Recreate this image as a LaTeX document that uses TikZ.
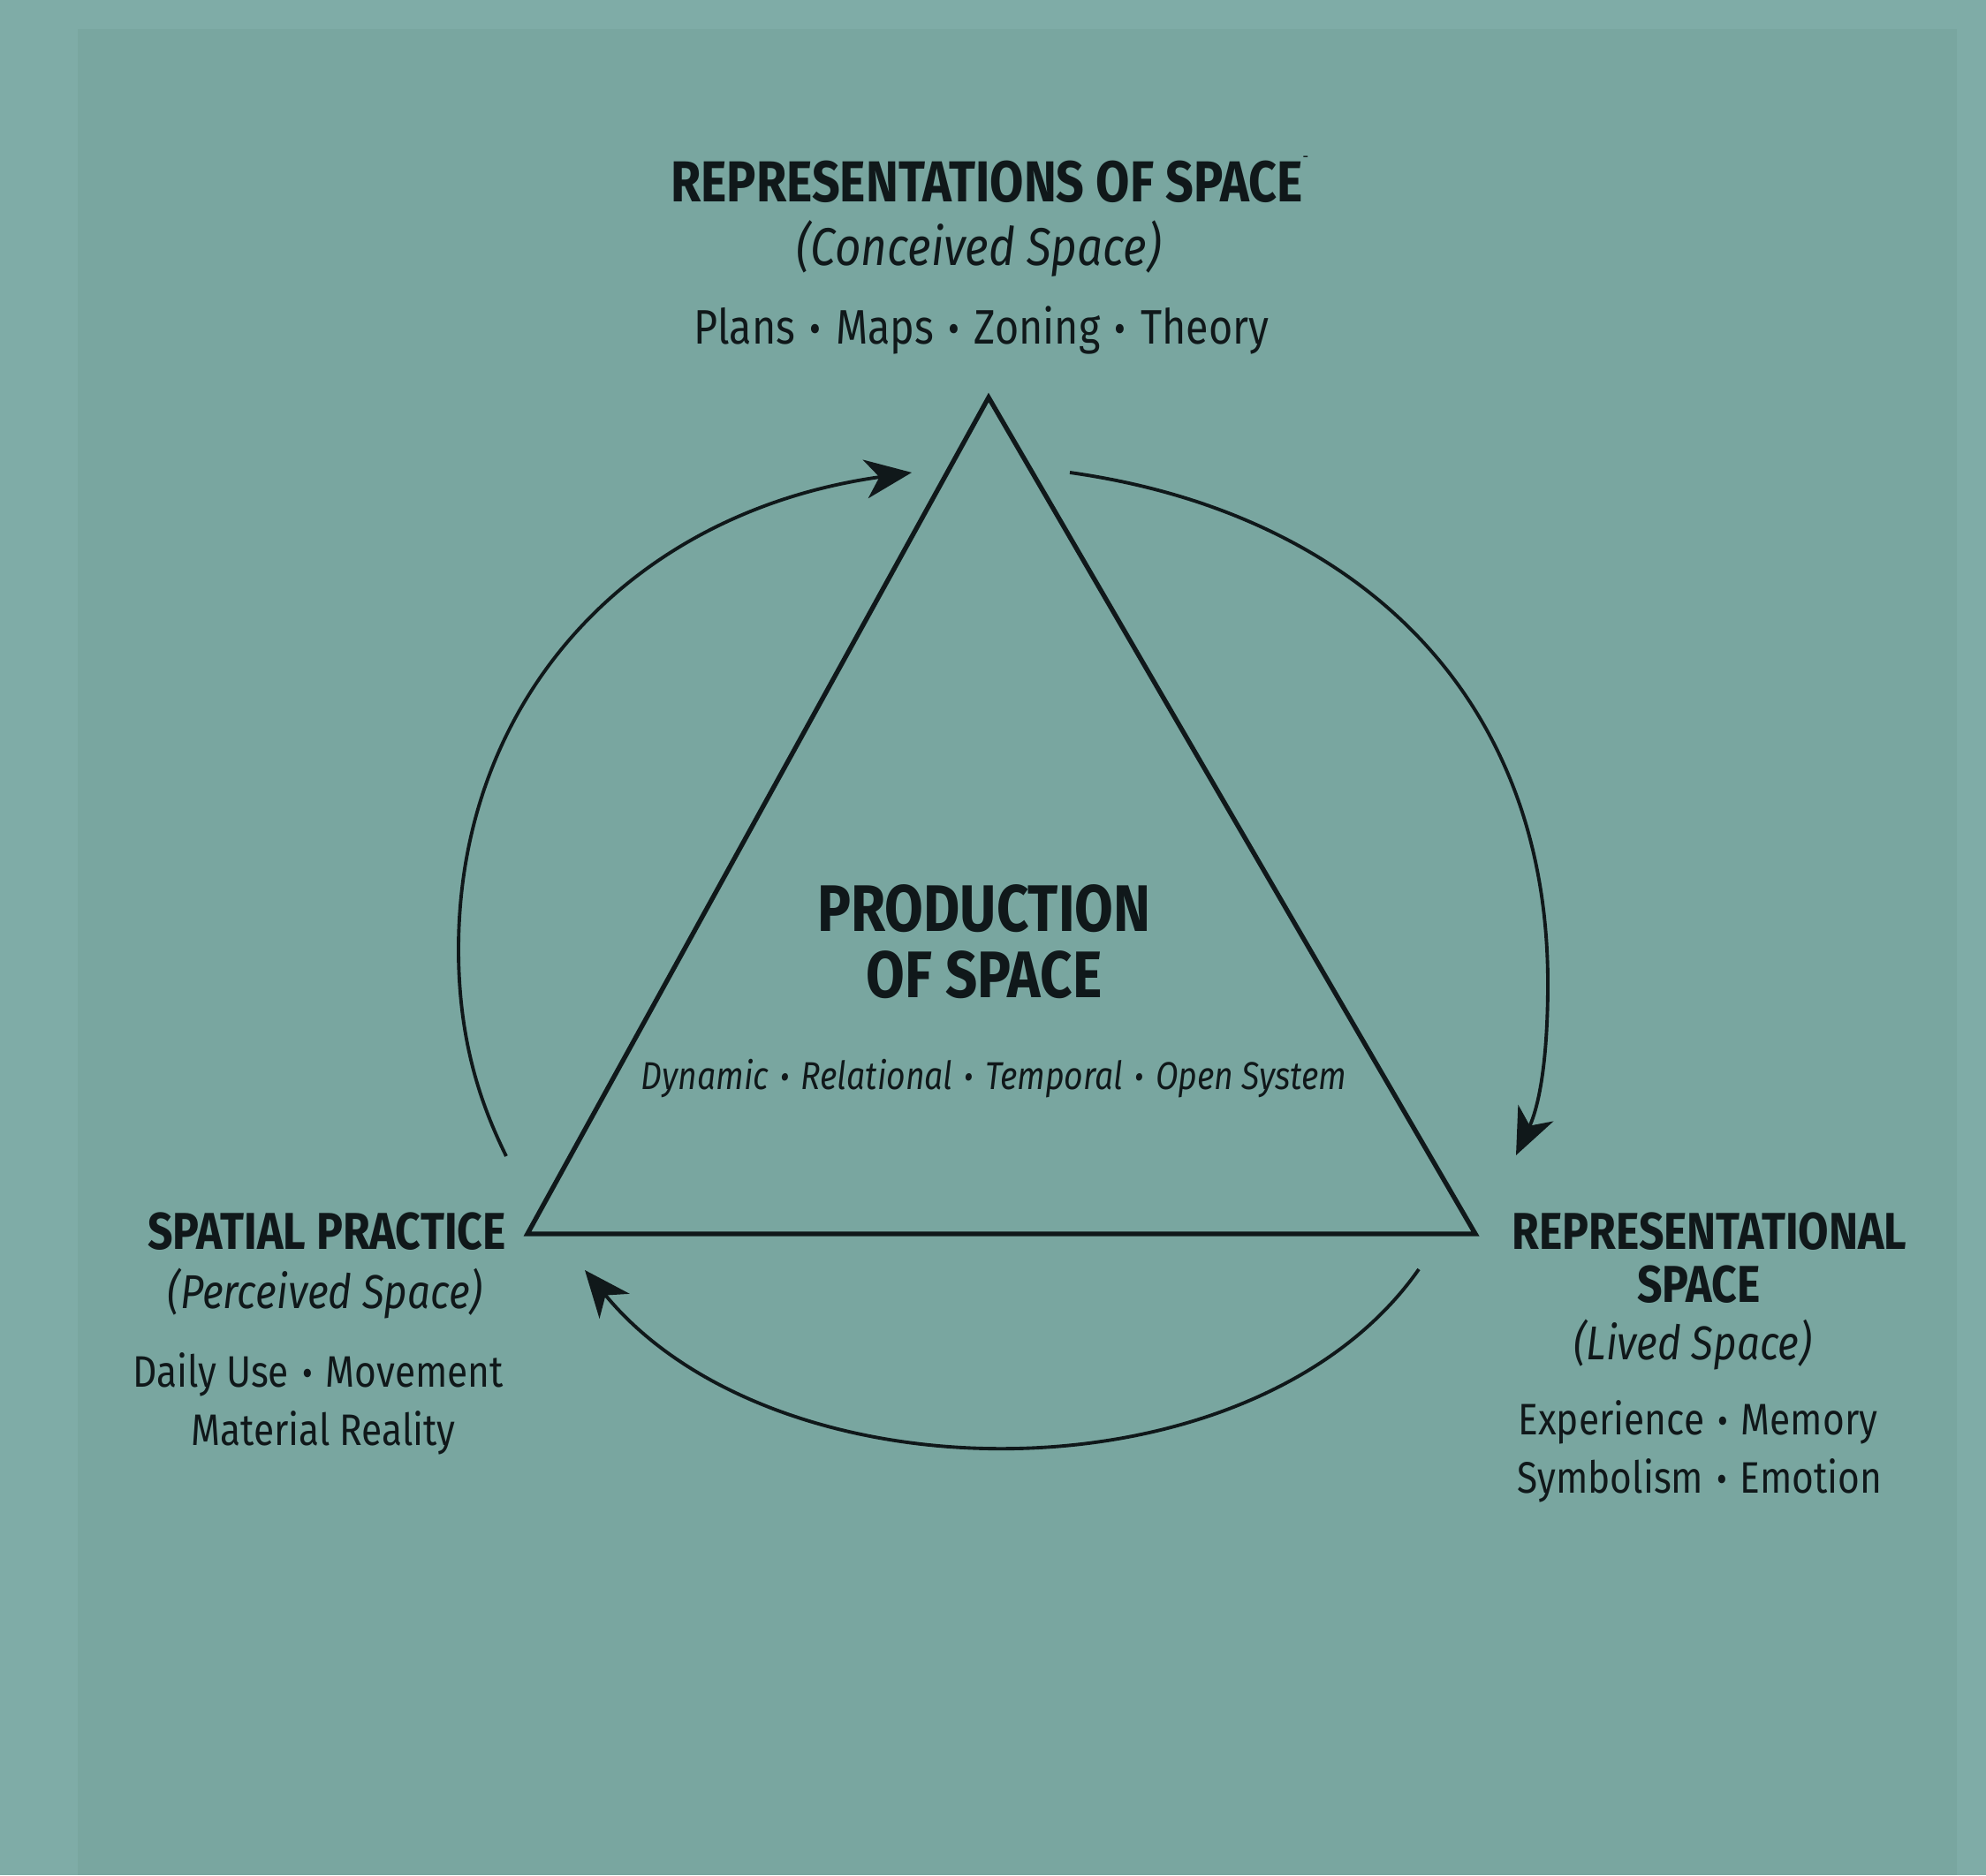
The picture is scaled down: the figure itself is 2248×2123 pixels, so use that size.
\documentclass[tikz,border=0pt]{standalone}
\usepackage{fontspec}
\setmainfont{Fira Sans}[FakeStretch=0.85]
\usetikzlibrary{arrows.meta}
\definecolor{bgout}{RGB}{127,172,167}
\definecolor{bgin}{RGB}{121,166,160}
\definecolor{ink}{RGB}{16,24,26}
\newcommand{\sepdot}{\hspace{0.3em}\raisebox{0.02em}{\scalebox{0.85}{•}}\hspace{0.3em}}
\begin{document}
\begin{tikzpicture}[x=0.01cm,y=0.01cm,
  lbl/.style={text=ink, inner sep=0pt, anchor=center},
  tophead/.style={lbl, font=\fontsize{18.6}{22}\selectfont\bfseries},
  head/.style={lbl, font=\fontsize{16.7}{20}\selectfont\bfseries},
  topsub/.style={lbl, font=\fontsize{17.1}{20}\selectfont\itshape},
  sub/.style={lbl, font=\fontsize{15.3}{18}\selectfont\itshape},
  topitems/.style={lbl, font=\fontsize{15.6}{19}\selectfont},
  items/.style={lbl, font=\fontsize{14.2}{18}\selectfont},
  core/.style={lbl, font=\fontsize{21.2}{26}\selectfont\bfseries},
  dyn/.style={lbl, font=\fontsize{12.5}{15}\selectfont\itshape},
  tri/.style={draw=ink, line width=1.5pt, line join=miter},
  arr/.style={draw=ink, line width=1.1pt, -{Stealth[length=15pt,width=12.5pt,inset=4.5pt]}}]
\fill[bgout] (0,0) rectangle (2248,2123);
\fill[bgin] (88,0) rectangle (2215,2090);
\useasboundingbox (0,0) rectangle (2248,2123);

% triangle
\coordinate (A) at (1119,1673);
\coordinate (B) at (597,726);
\coordinate (C) at (1670,726);
\draw[tri] (A) -- (B) -- (C) -- cycle;

% arcs
\coordinate (s1) at (573,814);
\coordinate (l1) at (519,1048);
\coordinate (e1) at (1032,1588);
\draw[arr] (s1) .. controls (548,865) and (519,938) .. (l1)
               .. controls (519,1330) and (712,1543) .. (e1);

\coordinate (s2) at (1211,1588);
\coordinate (r2) at (1752,1010);
\coordinate (e2) at (1716,815);
\draw[arr] (s2) .. controls (1531,1543) and (1752,1340) .. (r2)
               .. controls (1752,905) and (1738,862) .. (e2);

\coordinate (s3) at (1606,686);
\coordinate (e3) at (662,685);
\draw[arr] (s3) .. controls (1420,420) and (880,420) .. (e3);

% top labels
\node[tophead] (toph) at (1120,1920) {REPRESENTATIONS OF SPACE\raisebox{0.55em}{\fontsize{6}{6}\selectfont\normalfont ¯}};
\node[topsub] (tops) at (1108,1841) {(Conceived Space)};
\node[topitems] (topi) at (1111,1749) {Plans\sepdot Maps\sepdot Zoning\sepdot Theory};

% centre
\node[core] (c1) at (1114,1094) {PRODUCTION};
\node[core] (c2) at (1114,1019) {OF SPACE};
\node[dyn] (c3) at (1125,902) {Dynamic\sepdot Relational\sepdot Temporal\sepdot Open System};

% left labels
\node[head] (lh) at (370,729) {SPATIAL PRACTICE};
\node[sub] (ls) at (368,658) {(Perceived Space)};
\node[items] (li1) at (360,567) {Daily Use\sepdot Movement};
\node[items] (li2) at (366,501) {Material Reality};

% right labels
\node[head] (rh1) at (1935,729) {REPRESENTATIONAL};
\node[head] (rh2) at (1923,669) {SPACE};
\node[sub] (rs) at (1916,600) {(Lived Space)};
\node[items] (ri1) at (1922,513) {Experience\sepdot Memory};
\node[items] (ri2) at (1924,447) {Symbolism\sepdot Emotion};
\end{tikzpicture}
\end{document}
